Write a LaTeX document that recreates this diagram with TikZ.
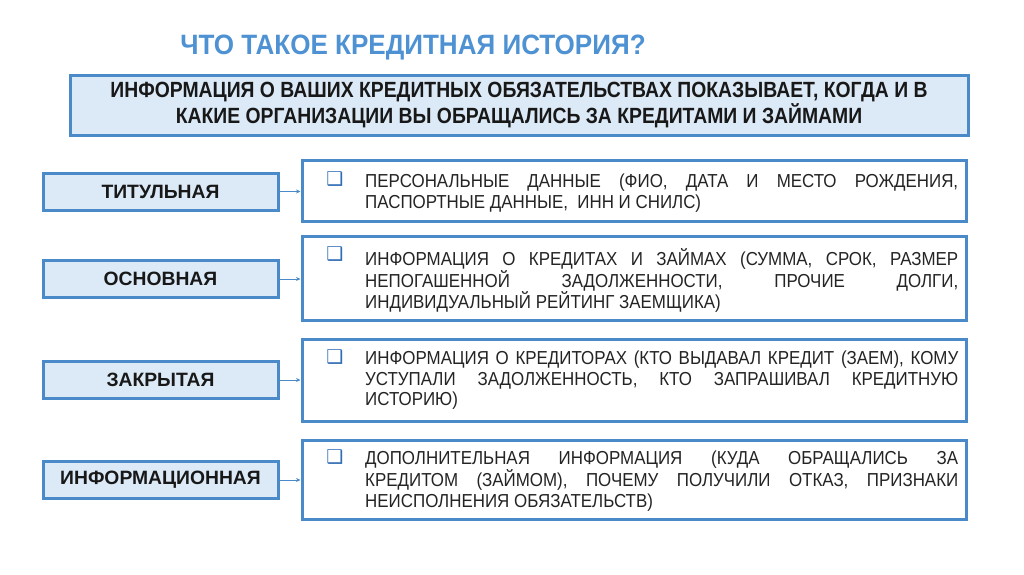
\documentclass[tikz,border=0pt]{standalone}
\usepackage{fontspec}
\setmainfont{Liberation Sans}
\newfontfamily\bodyfont{Liberation Sans}[FakeStretch=0.9]
\newfontfamily\headfont{Liberation Sans Bold}[FakeStretch=0.88]
\newfontfamily\titlefont{Liberation Sans Bold}[FakeStretch=0.93]
\newfontfamily\labelfont{Liberation Sans Bold}
\newfontfamily\symfont{DejaVu Sans}
\usetikzlibrary{arrows.meta}
\definecolor{bordblue}{RGB}{74,138,200}
\definecolor{fillblue}{RGB}{220,234,248}
\definecolor{titleblue}{RGB}{78,146,212}
\definecolor{txtdark}{RGB}{24,24,24}
\definecolor{bodytxt}{RGB}{36,36,36}
\definecolor{bulletblue}{RGB}{50,110,180}
\tikzset{
  framebox/.style={draw=bordblue, line width=3pt, inner sep=0pt},
  leftbox/.style={framebox, fill=fillblue, minimum width=235pt, minimum height=37pt,
    font=\labelfont\fontsize{19.3}{21}\selectfont, text=txtdark},
  rightbox/.style={framebox, fill=white, minimum width=664pt},
  bodytext/.style={anchor=north west, inner sep=0pt, text width=593pt, align=justify,
    font=\bodyfont\fontsize{18.8}{20.5}\selectfont, text=bodytxt},
  bulletmark/.style={inner sep=0pt, font=\symfont\fontsize{19}{19}\selectfont, text=bulletblue},
  link/.style={draw=bordblue, line width=0.8pt, -{Stealth[length=4.5pt,width=4pt]}}
}
\begin{document}
\begin{tikzpicture}[x=1pt,y=-1pt]
\useasboundingbox[fill=white] (0,0) rectangle (1024,574);

\node[text=titleblue, font=\titlefont\fontsize{28}{30}\selectfont] (title) at (413,48) {ЧТО ТАКОЕ КРЕДИТНАЯ ИСТОРИЯ?};

\node[framebox, fill=fillblue, minimum width=898pt, minimum height=60pt, align=center,
  font=\headfont\fontsize{22}{24}\selectfont, text=txtdark] (top) at (519,105)
  {ИНФОРМАЦИЯ О ВАШИХ КРЕДИТНЫХ ОБЯЗАТЕЛЬСТВАХ ПОКАЗЫВАЕТ, КОГДА И В\\КАКИЕ ОРГАНИЗАЦИИ ВЫ ОБРАЩАЛИСЬ ЗА КРЕДИТАМИ И ЗАЙМАМИ};

% left boxes
\node[leftbox] (l1) at (160.5,191.5) {ТИТУЛЬНАЯ};
\node[leftbox] (l2) at (160.5,279) {ОСНОВНАЯ};
\node[leftbox] (l3) at (160.5,380) {ЗАКРЫТАЯ};
\node[leftbox] (l4) at (160.5,480) {ИНФОРМАЦИОННАЯ};

% right boxes
\node[rightbox, minimum height=61pt] (r1) at (634,190.5) {};
\node[rightbox, minimum height=84pt] (r2) at (634,278) {};
\node[rightbox, minimum height=82pt] (r3) at (634,380) {};
\node[rightbox, minimum height=79pt] (r4) at (634,479.5) {};

% bullets
\node[bulletmark] (b1) at (335,179) {❑};
\node[bulletmark] (b2) at (335,254) {❑};
\node[bulletmark] (b3) at (335,357) {❑};
\node[bulletmark] (b4) at (335,457) {❑};

% texts
\node[bodytext] (t1) at (365,174) {ПЕРСОНАЛЬНЫЕ ДАННЫЕ (ФИО, ДАТА И МЕСТО РОЖДЕНИЯ,\linebreak ПАСПОРТНЫЕ ДАННЫЕ,\ \ ИНН И СНИЛС)};
\node[bodytext] (t2) at (365,248) {ИНФОРМАЦИЯ О КРЕДИТАХ И ЗАЙМАХ (СУММА, СРОК, РАЗМЕР\linebreak НЕПОГАШЕННОЙ ЗАДОЛЖЕННОСТИ, ПРОЧИЕ ДОЛГИ,\linebreak ИНДИВИДУАЛЬНЫЙ РЕЙТИНГ ЗАЕМЩИКА)};
\node[bodytext] (t3) at (365,351) {ИНФОРМАЦИЯ О КРЕДИТОРАХ (КТО ВЫДАВАЛ КРЕДИТ (ЗАЕМ), КОМУ\linebreak УСТУПАЛИ ЗАДОЛЖЕННОСТЬ, КТО ЗАПРАШИВАЛ КРЕДИТНУЮ\linebreak ИСТОРИЮ)};
\node[bodytext] (t4) at (365,451) {ДОПОЛНИТЕЛЬНАЯ ИНФОРМАЦИЯ (КУДА ОБРАЩАЛИСЬ ЗА\linebreak КРЕДИТОМ (ЗАЙМОМ), ПОЧЕМУ ПОЛУЧИЛИ ОТКАЗ, ПРИЗНАКИ\linebreak НЕИСПОЛНЕНИЯ ОБЯЗАТЕЛЬСТВ)};

% connectors
\draw[link] (l1.east) -- (l1.east -| r1.west);
\draw[link] (l2.east) -- (l2.east -| r2.west);
\draw[link] (l3.east) -- (l3.east -| r3.west);
\draw[link] (l4.east) -- (l4.east -| r4.west);
\end{tikzpicture}
\end{document}
